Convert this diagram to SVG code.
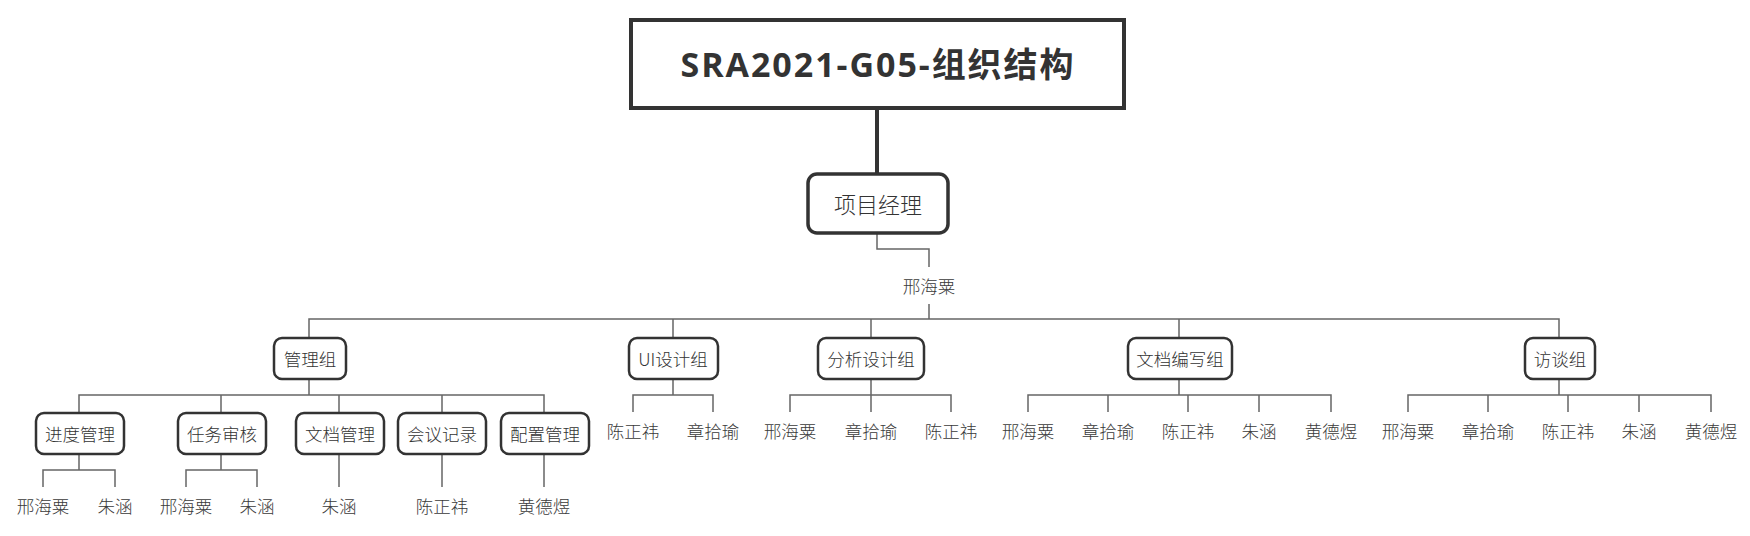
<svg xmlns="http://www.w3.org/2000/svg" width="1750" height="536" viewBox="0 0 1750 536">
<style>
text{font-family:"Noto Sans CJK SC","Noto Sans",sans-serif;fill:#333;text-anchor:middle;dominant-baseline:central;font-weight:300}
.title{font-family:"Open Sans","Noto Sans CJK SC",sans-serif;font-weight:700;font-size:34px}
.pm{font-size:22px}
.n{font-size:17.5px}
.leaf{font-size:17.5px;fill:#3a3a3a}
.box{fill:#fff;stroke:#333;stroke-width:2.5}
.c{fill:none;stroke:#666;stroke-width:1.5}
</style>
<rect width="1750" height="536" fill="#fff"/>
<g id="connectors">
<line x1="877" y1="109" x2="877" y2="173" stroke="#333" stroke-width="4"/>
<path class="c" d="M877 233V249H929V267M929 304V319"/>
<path class="c" d="M309 337V319H1559V337M673 319V337M871 319V337M1179 319V337"/>
<!-- 管理组 -->
<path class="c" d="M309 379V395M79 412V395H544V412M221 395V412M339 395V412M442 395V412"/>
<path class="c" d="M79 454V470M43 487V470H115V487M221 454V470M186 487V470H257V487M339 454V487M442 454V487M544 454V487"/>
<!-- UI -->
<path class="c" d="M673 379V395M633 412V395H713V412"/>
<!-- 分析 -->
<path class="c" d="M871 379V412M790 412V395H951V412"/>
<!-- 文档编写 -->
<path class="c" d="M1179 379V395M1028 412V395H1331V412M1108 395V412M1188 395V412M1259 395V412"/>
<!-- 访谈 -->
<path class="c" d="M1559 379V395M1408 412V395H1711V412M1488 395V412M1568 395V412M1639 395V412"/>
</g>
<g id="title"><rect x="631" y="20" width="493" height="88" fill="#fff" stroke="#333" stroke-width="4"/><text class="title" x="877" y="64" textLength="393">SRA2021-G05-组织结构</text></g>
<g id="pm"><rect x="808" y="174" width="140" height="59" rx="9" fill="#fff" stroke="#333" stroke-width="3.5"/><text class="pm" x="878" y="203">项目经理</text></g>
<g id="pm-name"><text class="leaf" x="929" y="285">邢海粟</text></g>
<g id="g1"><rect class="box" x="274" y="338" width="72" height="41" rx="8"/><text class="n" x="310" y="358">管理组</text></g>
<g id="g2"><rect class="box" x="629" y="338" width="89" height="41" rx="8"/><text class="n" x="673" y="358">UI设计组</text></g>
<g id="g3"><rect class="box" x="818" y="338" width="106" height="41" rx="8"/><text class="n" x="871" y="358">分析设计组</text></g>
<g id="g4"><rect class="box" x="1128" y="338" width="104" height="41" rx="8"/><text class="n" x="1180" y="358">文档编写组</text></g>
<g id="g5"><rect class="box" x="1525" y="338" width="70" height="41" rx="8"/><text class="n" x="1560" y="358">访谈组</text></g>
<g id="s1"><rect class="box" x="36" y="413" width="88" height="41" rx="8"/><text class="n" x="80" y="433">进度管理</text></g>
<g id="s2"><rect class="box" x="178" y="413" width="88" height="41" rx="8"/><text class="n" x="222" y="433">任务审核</text></g>
<g id="s3"><rect class="box" x="296" y="413" width="88" height="41" rx="8"/><text class="n" x="340" y="433">文档管理</text></g>
<g id="s4"><rect class="box" x="398" y="413" width="88" height="41" rx="8"/><text class="n" x="442" y="433">会议记录</text></g>
<g id="s5"><rect class="box" x="501" y="413" width="88" height="41" rx="8"/><text class="n" x="545" y="433">配置管理</text></g>
<g id="leaves">
<text class="leaf" x="43" y="505">邢海粟</text><text class="leaf" x="115" y="505">朱涵</text>
<text class="leaf" x="186" y="505">邢海粟</text><text class="leaf" x="257" y="505">朱涵</text>
<text class="leaf" x="339" y="505">朱涵</text><text class="leaf" x="442" y="505">陈正祎</text><text class="leaf" x="544" y="505">黄德煜</text>
<text class="leaf" x="633" y="430">陈正祎</text><text class="leaf" x="713" y="430">章拾瑜</text>
<text class="leaf" x="790" y="430">邢海粟</text><text class="leaf" x="871" y="430">章拾瑜</text><text class="leaf" x="951" y="430">陈正祎</text>
<text class="leaf" x="1028" y="430">邢海粟</text><text class="leaf" x="1108" y="430">章拾瑜</text><text class="leaf" x="1188" y="430">陈正祎</text><text class="leaf" x="1259" y="430">朱涵</text><text class="leaf" x="1331" y="430">黄德煜</text>
<text class="leaf" x="1408" y="430">邢海粟</text><text class="leaf" x="1488" y="430">章拾瑜</text><text class="leaf" x="1568" y="430">陈正祎</text><text class="leaf" x="1639" y="430">朱涵</text><text class="leaf" x="1711" y="430">黄德煜</text>
</g>
</svg>
